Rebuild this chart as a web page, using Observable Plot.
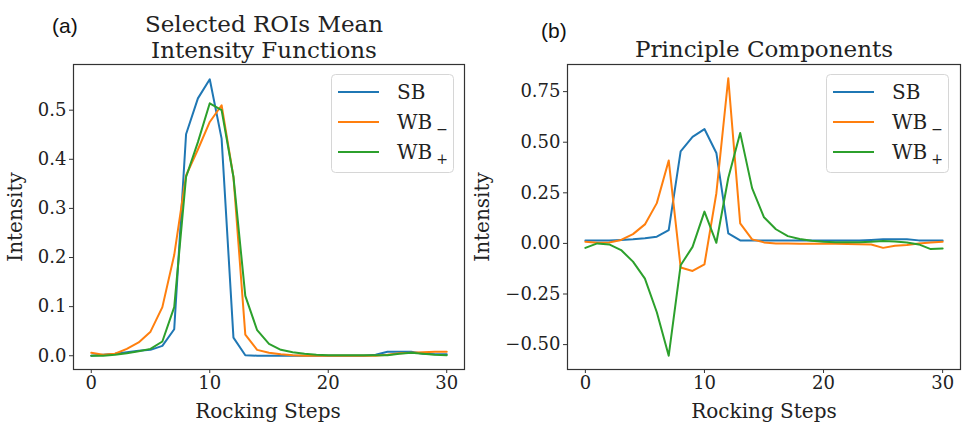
<!DOCTYPE html>
<html>
<head>
<meta charset="utf-8">
<script src="https://cdn.jsdelivr.net/npm/d3@7"></script>
<script src="https://cdn.jsdelivr.net/npm/@observablehq/plot@0.6"></script>
<style>
  html, body { margin: 0; padding: 0; background: #fff; }
  #root { position: relative; width: 973px; height: 426px; overflow: hidden; font-family: "DejaVu Serif", serif; color: #222; }
  #root > svg { position: absolute; top: 0; }
</style>
</head>
<body>
<div id="root"></div>
<script>
// ---- data ----
const steps = d3.range(0, 31);
const seriesNames = ["SB", "WB_-", "WB_+"];
const seriesColors = ["#1f77b4", "#ff7f0e", "#2ca02c"];

// (a) Selected ROIs mean intensity functions
const meanSB = [0.000, 0.002, 0.004, 0.007, 0.010, 0.012, 0.020, 0.054, 0.451, 0.524, 0.563, 0.442, 0.037, 0.001, 0.000, 0.000, 0.000, 0.000, 0.000, 0.000, 0.000, 0.000, 0.000, 0.000, 0.002, 0.008, 0.008, 0.008, 0.004, 0.003, 0.003];
const meanWBm = [0.006, 0.002, 0.004, 0.014, 0.027, 0.049, 0.099, 0.205, 0.367, 0.420, 0.476, 0.510, 0.364, 0.043, 0.012, 0.006, 0.003, 0.001, 0.000, 0.000, 0.000, 0.000, 0.000, 0.000, 0.000, 0.002, 0.005, 0.006, 0.007, 0.008, 0.008];
const meanWBp = [0.000, 0.000, 0.002, 0.005, 0.009, 0.014, 0.029, 0.099, 0.364, 0.435, 0.514, 0.500, 0.364, 0.122, 0.052, 0.024, 0.012, 0.007, 0.004, 0.002, 0.001, 0.001, 0.001, 0.001, 0.001, 0.001, 0.004, 0.006, 0.004, 0.002, 0.001];

// (b) Principle components
const pcSB = [0.015, 0.015, 0.015, 0.017, 0.020, 0.025, 0.033, 0.066, 0.455, 0.526, 0.565, 0.447, 0.050, 0.015, 0.015, 0.015, 0.015, 0.015, 0.015, 0.015, 0.015, 0.015, 0.015, 0.015, 0.017, 0.020, 0.020, 0.020, 0.015, 0.015, 0.015];
const pcWBm = [0.008, 0.003, 0.005, 0.017, 0.046, 0.094, 0.199, 0.410, -0.119, -0.136, -0.103, 0.248, 0.816, 0.099, 0.020, 0.005, 0.000, -0.001, -0.002, -0.002, -0.002, -0.002, -0.003, -0.004, -0.005, -0.022, -0.012, -0.008, 0.000, 0.005, 0.008];
const pcWBp = [-0.022, 0.000, -0.005, -0.033, -0.090, -0.174, -0.340, -0.555, -0.108, -0.017, 0.157, 0.003, 0.323, 0.546, 0.273, 0.129, 0.070, 0.036, 0.022, 0.013, 0.008, 0.006, 0.006, 0.006, 0.008, 0.012, 0.010, 0.005, -0.005, -0.028, -0.025];

const xTicks = [0, 10, 20, 30];
const yTicksA = [0.0, 0.1, 0.2, 0.3, 0.4, 0.5];
const yTicksB = [-0.5, -0.25, 0.0, 0.25, 0.5, 0.75];

const titleA = ["Selected ROIs Mean", "Intensity Functions"];
const titleB = ["Principle Components"];
const xLabel = "Rocking Steps";
const yLabel = "Intensity";
const legendLabels = [["SB", ""], ["WB", "\u2212"], ["WB", "+"]];

// ---- helpers ----
function tidy(arrs) {
  const rows = [];
  arrs.forEach((vals, si) => vals.forEach((v, i) => rows.push({step: steps[i], value: v, series: seriesNames[si]})));
  return rows;
}

const root = document.getElementById("root");
const serif = "\"DejaVu Serif\", serif";

function makePanel({rows, yDomain, yTicks, yFormat, width, marginLeft, marginRight, left}) {
  const chart = Plot.plot({
    width, height: 426,
    marginLeft, marginRight, marginTop: 64, marginBottom: 57,
    style: {fontFamily: serif, fontSize: "18px", color: "#222", background: "transparent", overflow: "visible"},
    x: {domain: [-1.5, 31.5], ticks: xTicks},
    y: {domain: yDomain, ticks: yTicks, tickFormat: d3.format(yFormat)},
    color: {domain: seriesNames, range: seriesColors},
    marks: [
      Plot.axisX({ticks: xTicks, tickSize: 4, tickPadding: 3, fontSize: 18, label: null, stroke: "#333"}),
      Plot.axisY({ticks: yTicks, tickFormat: d3.format(yFormat), tickSize: 4, tickPadding: 3, fontSize: 18, label: null, stroke: "#333"}),
      Plot.line(rows, {x: "step", y: "value", z: "series", stroke: "series", strokeWidth: 2, strokeLinejoin: "round"}),
      Plot.frame({stroke: "#333", strokeWidth: 1.2})
    ]
  });
  chart.style.left = left + "px";
  root.appendChild(chart);
}

makePanel({rows: tidy([meanSB, meanWBm, meanWBp]), yDomain: [-0.028, 0.593], yTicks: yTicksA, yFormat: ".1f",
  width: 486, marginLeft: 73, marginRight: 22, left: 0});
makePanel({rows: tidy([pcSB, pcWBm, pcWBp]), yDomain: [-0.623, 0.884], yTicks: yTicksB, yFormat: ".2f",
  width: 487, marginLeft: 81, marginRight: 13, left: 486});

// ---- overlay: panel letters, titles, axis labels, legends ----
const ov = d3.select(root).append("svg").attr("width", 973).attr("height", 426)
  .style("left", "0px").style("pointer-events", "none");

function txt(s, x, y, opts = {}) {
  return ov.append("text").attr("x", x).attr("y", y)
    .attr("font-family", opts.family || serif).attr("font-size", opts.size || 20)
    .attr("fill", opts.fill || "#222").attr("text-anchor", opts.anchor || "middle")
    .attr("transform", opts.transform || null).text(s);
}

txt("(a)", 52, 33, {family: "\"Liberation Sans\", Arial, sans-serif", size: 21, anchor: "start", fill: "#111"});
txt("(b)", 541, 38, {family: "\"Liberation Sans\", Arial, sans-serif", size: 21, anchor: "start", fill: "#111"});
titleA.forEach((s, i) => txt(s, 264, 31.5 + i * 26, {size: 23}));
titleB.forEach((s, i) => txt(s, 764, 56.5 + i * 26, {size: 23}));

function labels(cx, yx) {
  txt(xLabel, cx, 418, {size: 20});
  txt(yLabel, 0, 0, {size: 20, transform: `translate(${yx},217) rotate(-90)`});
}
labels(268, 22);
labels(764, 489);

function legend(left, top) {
  const g = ov.append("g").attr("transform", `translate(${left},${top})`);
  g.append("rect").attr("x", 0.5).attr("y", 0.5).attr("width", 122).attr("height", 98).attr("rx", 4)
    .attr("fill", "white").attr("fill-opacity", 0.85).attr("stroke", "#d6d6d6");
  const rowsY = [18, 48, 78];
  legendLabels.forEach(([main, sub], i) => {
    g.append("line").attr("x1", 7).attr("x2", 48).attr("y1", rowsY[i]).attr("y2", rowsY[i])
      .attr("stroke", seriesColors[i]).attr("stroke-width", 2);
    const t = g.append("text").attr("x", 66).attr("y", rowsY[i] + 7)
      .attr("font-family", serif).attr("font-size", 20).attr("fill", "#222");
    t.append("tspan").text(main);
    if (sub) t.append("tspan").attr("dx", 4).attr("dy", 5).attr("font-size", 14).text(sub);
  });
}
legend(331, 74);
legend(826, 74);
</script>
</body>
</html>
